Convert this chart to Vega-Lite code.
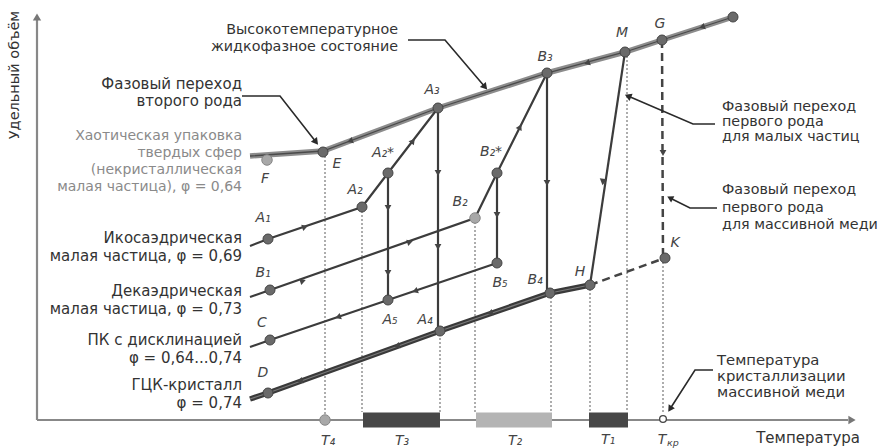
{
  "$schema": "https://vega.github.io/schema/vega-lite/v6.json",
  "width": 881,
  "height": 448,
  "autosize": {"type": "none"},
  "padding": 0,
  "background": "white",
  "config": {"view": {"stroke": null}, "text": {"font": "DejaVu Sans"}},
  "datasets": {
    "dotted": [
      {"id": "E", "o": 0, "x": 325, "y": 152}, {"id": "E", "o": 1, "x": 325, "y": 420},
      {"id": "A2", "o": 0, "x": 362, "y": 207}, {"id": "A2", "o": 1, "x": 362, "y": 412},
      {"id": "A4", "o": 0, "x": 440, "y": 330}, {"id": "A4", "o": 1, "x": 440, "y": 412},
      {"id": "B2", "o": 0, "x": 475, "y": 218}, {"id": "B2", "o": 1, "x": 475, "y": 412},
      {"id": "B4", "o": 0, "x": 551, "y": 293}, {"id": "B4", "o": 1, "x": 551, "y": 412},
      {"id": "H", "o": 0, "x": 590, "y": 285}, {"id": "H", "o": 1, "x": 590, "y": 412},
      {"id": "M", "o": 0, "x": 627, "y": 52}, {"id": "M", "o": 1, "x": 627, "y": 412},
      {"id": "K", "o": 0, "x": 663, "y": 258}, {"id": "K", "o": 1, "x": 663, "y": 414}
    ],
    "bars": [
      {"t": "T₃", "x": 363, "x2": 440, "y": 420},
      {"t": "T₂", "x": 476, "x2": 552, "y": 420},
      {"t": "T₁", "x": 589, "x2": 628, "y": 420}
    ],
    "axes": [
      {"id": "v", "o": 0, "x": 37, "y": 420}, {"id": "v", "o": 1, "x": 37, "y": 20},
      {"id": "h", "o": 0, "x": 37, "y": 420}, {"id": "h", "o": 1, "x": 848, "y": 420}
    ],
    "top": [
      {"o": 0, "x": 250, "y": 156}, {"o": 1, "x": 323, "y": 151}, {"o": 2, "x": 438, "y": 108},
      {"o": 3, "x": 547, "y": 73}, {"o": 4, "x": 625, "y": 52}, {"o": 5, "x": 662, "y": 40},
      {"o": 6, "x": 733, "y": 17}
    ],
    "solid": [
      {"id": "A", "o": 0, "x": 250, "y": 246}, {"id": "A", "o": 1, "x": 268, "y": 239}, {"id": "A", "o": 2, "x": 362, "y": 207}, {"id": "A", "o": 3, "x": 388, "y": 173}, {"id": "A", "o": 4, "x": 438, "y": 108},
      {"id": "B", "o": 0, "x": 250, "y": 297}, {"id": "B", "o": 1, "x": 270, "y": 290}, {"id": "B", "o": 2, "x": 475, "y": 218}, {"id": "B", "o": 3, "x": 497, "y": 173}, {"id": "B", "o": 4, "x": 547, "y": 73},
      {"id": "C", "o": 0, "x": 250, "y": 347}, {"id": "C", "o": 1, "x": 270, "y": 340}, {"id": "C", "o": 2, "x": 388, "y": 300}, {"id": "C", "o": 3, "x": 497, "y": 263},
      {"id": "HM", "o": 0, "x": 590, "y": 285}, {"id": "HM", "o": 1, "x": 625, "y": 52},
      {"id": "vA3", "o": 0, "x": 438, "y": 108}, {"id": "vA3", "o": 1, "x": 438, "y": 330},
      {"id": "vA2", "o": 0, "x": 388, "y": 173}, {"id": "vA2", "o": 1, "x": 388, "y": 300},
      {"id": "vB2", "o": 0, "x": 497, "y": 173}, {"id": "vB2", "o": 1, "x": 497, "y": 263},
      {"id": "vB3", "o": 0, "x": 547, "y": 73}, {"id": "vB3", "o": 1, "x": 547, "y": 293}
    ],
    "dline": [
      {"o": 0, "x": 250, "y": 399}, {"o": 1, "x": 268, "y": 393}, {"o": 2, "x": 440, "y": 331},
      {"o": 3, "x": 550, "y": 293}, {"o": 4, "x": 590, "y": 285}
    ],
    "dashed": [
      {"id": "HK", "o": 0, "x": 590, "y": 285}, {"id": "HK", "o": 1, "x": 665, "y": 258},
      {"id": "GK", "o": 0, "x": 662, "y": 40}, {"id": "GK", "o": 1, "x": 663, "y": 258}
    ],
    "pointers": [
      {"id": "p1", "o": 0, "x": 242, "y": 96}, {"id": "p1", "o": 1, "x": 280, "y": 96}, {"id": "p1", "o": 2, "x": 316, "y": 142},
      {"id": "p2", "o": 0, "x": 408, "y": 40}, {"id": "p2", "o": 1, "x": 445, "y": 40}, {"id": "p2", "o": 2, "x": 485, "y": 87},
      {"id": "p3", "o": 0, "x": 715, "y": 124}, {"id": "p3", "o": 1, "x": 693, "y": 124}, {"id": "p3", "o": 2, "x": 628, "y": 96},
      {"id": "p4", "o": 0, "x": 717, "y": 208}, {"id": "p4", "o": 1, "x": 690, "y": 208}, {"id": "p4", "o": 2, "x": 670, "y": 198},
      {"id": "p5", "o": 0, "x": 713, "y": 370}, {"id": "p5", "o": 1, "x": 695, "y": 370}, {"id": "p5", "o": 2, "x": 670, "y": 409}
    ],
    "dots": [
      {"x": 323, "y": 152}, {"x": 268, "y": 239}, {"x": 362, "y": 207}, {"x": 388, "y": 173},
      {"x": 438, "y": 108}, {"x": 440, "y": 331}, {"x": 388, "y": 300}, {"x": 270, "y": 290},
      {"x": 497, "y": 173}, {"x": 547, "y": 73}, {"x": 550, "y": 293}, {"x": 497, "y": 263},
      {"x": 270, "y": 340}, {"x": 268, "y": 393}, {"x": 590, "y": 285}, {"x": 665, "y": 258},
      {"x": 625, "y": 52}, {"x": 662, "y": 40}, {"x": 733, "y": 17}
    ],
    "dots_light": [
      {"x": 267, "y": 160}, {"x": 475, "y": 218}, {"x": 325, "y": 420}
    ],
    "open": [{"x": 663, "y": 419}],
    "arr_right": [{"x": 305, "y": 227}, {"x": 303, "y": 281}, {"x": 410, "y": 242}],
    "arr_left": [{"x": 338, "y": 317}, {"x": 415, "y": 291}, {"x": 300, "y": 381}, {"x": 397, "y": 346}, {"x": 490, "y": 313}, {"x": 350, "y": 141}, {"x": 587, "y": 63}, {"x": 702, "y": 27}],
    "arr_down": [{"x": 438, "y": 173}, {"x": 438, "y": 247}, {"x": 388, "y": 208}, {"x": 388, "y": 273}, {"x": 497, "y": 215}, {"x": 547, "y": 183}, {"x": 663, "y": 153}],
    "arr_a23": [{"x": 413, "y": 141}],
    "arr_b23": [{"x": 520, "y": 127}],
    "arr_mh": [{"x": 603, "y": 182}],
    "tip_p1": [{"x": 316, "y": 142}],
    "tip_p2": [{"x": 485, "y": 87}],
    "tip_p3": [{"x": 628, "y": 96}],
    "tip_p4": [{"x": 670, "y": 198}],
    "tip_p5": [{"x": 670, "y": 409}],
    "tip_v": [{"x": 37, "y": 17}],
    "tip_h": [{"x": 852, "y": 420}],
    "left_dark": [
      {"x": 242, "y": 84, "t": "Фазовый переход"}, {"x": 242, "y": 101, "t": "второго рода"},
      {"x": 242, "y": 238, "t": "Икосаэдрическая"}, {"x": 242, "y": 256, "t": "малая частица, φ = 0,69"},
      {"x": 242, "y": 291, "t": "Декаэдрическая"}, {"x": 242, "y": 309, "t": "малая частица, φ = 0,73"},
      {"x": 242, "y": 340, "t": "ПК с дисклинацией"}, {"x": 242, "y": 358, "t": "φ = 0,64...0,74"},
      {"x": 242, "y": 385, "t": "ГЦК-кристалл"}, {"x": 242, "y": 403, "t": "φ = 0,74"}
    ],
    "top_text": [
      {"x": 398, "y": 30, "t": "Высокотемпературное"}, {"x": 398, "y": 47, "t": "жидкофазное состояние"}
    ],
    "left_grey": [
      {"x": 242, "y": 136, "t": "Хаотическая упаковка"}, {"x": 242, "y": 153, "t": "твердых сфер"},
      {"x": 242, "y": 170, "t": "(некристаллическая"}, {"x": 242, "y": 187, "t": "малая частица), φ = 0,64"}
    ],
    "right_text": [
      {"x": 722, "y": 107, "t": "Фазовый переход"}, {"x": 722, "y": 122, "t": "первого рода"}, {"x": 722, "y": 137, "t": "для малых частиц"},
      {"x": 722, "y": 190, "t": "Фазовый переход"}, {"x": 722, "y": 208, "t": "первого рода"}, {"x": 722, "y": 225, "t": "для массивной меди"}
    ],
    "right_text2": [
      {"x": 717, "y": 361, "t": "Температура"}, {"x": 717, "y": 377, "t": "кристаллизации"}, {"x": 717, "y": 393, "t": "массивной меди"}
    ],
    "point_labels": [
      {"x": 263, "y": 218, "t": "A₁"}, {"x": 355, "y": 190, "t": "A₂"}, {"x": 383, "y": 153, "t": "A₂*"},
      {"x": 432, "y": 90, "t": "A₃"}, {"x": 425, "y": 320, "t": "A₄"}, {"x": 390, "y": 320, "t": "A₅"},
      {"x": 263, "y": 273, "t": "B₁"}, {"x": 460, "y": 202, "t": "B₂"}, {"x": 491, "y": 152, "t": "B₂*"},
      {"x": 545, "y": 57, "t": "B₃"}, {"x": 535, "y": 280, "t": "B₄"}, {"x": 500, "y": 283, "t": "B₅"},
      {"x": 262, "y": 323, "t": "C"}, {"x": 263, "y": 373, "t": "D"}, {"x": 337, "y": 164, "t": "E"},
      {"x": 265, "y": 179, "t": "F"}, {"x": 580, "y": 272, "t": "H"}, {"x": 675, "y": 243, "t": "K"},
      {"x": 622, "y": 33, "t": "M"}, {"x": 660, "y": 24, "t": "G"},
      {"x": 328, "y": 441, "t": "T₄"}, {"x": 402, "y": 441, "t": "T₃"}, {"x": 515, "y": 441, "t": "T₂"},
      {"x": 608, "y": 440, "t": "T₁"}, {"x": 662, "y": 440, "t": "T"}
    ],
    "sub_kr": [{"x": 673, "y": 443, "t": "кр"}],
    "axis_titles": [{"x": 860, "y": 438, "t": "Температура"}],
    "yaxis_title": [{"x": 15, "y": 75, "t": "Удельный объём"}]
  },
  "encoding": {
    "x": {"field": "x", "type": "quantitative", "scale": {"domain": [0, 881], "nice": false, "zero": false}, "axis": null},
    "y": {"field": "y", "type": "quantitative", "scale": {"domain": [0, 448], "nice": false, "zero": false, "reverse": true}, "axis": null}
  },
  "layer": [
    {"data": {"name": "dotted"}, "mark": {"type": "line", "color": "#777", "strokeWidth": 1.2, "strokeDash": [2, 2]}, "encoding": {"detail": {"field": "id"}, "order": {"field": "o"}}},
    {"data": {"name": "axes"}, "mark": {"type": "line", "color": "#888", "strokeWidth": 2.2}, "encoding": {"detail": {"field": "id"}, "order": {"field": "o"}}},
    {"data": {"name": "bars"}, "mark": {"type": "rule", "strokeWidth": 15, "strokeCap": "butt"},
      "encoding": {"x2": {"field": "x2"},
        "color": {"field": "t", "type": "nominal", "scale": {"domain": ["T₃", "T₂", "T₁"], "range": ["#474747", "#b4b4b4", "#474747"]}, "legend": null}}},
    {"data": {"name": "top"}, "mark": {"type": "line", "color": "#8c8c8c", "strokeWidth": 5.5}, "encoding": {"order": {"field": "o"}}},
    {"data": {"name": "top"}, "mark": {"type": "line", "color": "#4a4a4a", "strokeWidth": 1.3}, "encoding": {"order": {"field": "o"}}},
    {"data": {"name": "solid"}, "mark": {"type": "line", "color": "#3c3c3c", "strokeWidth": 2.2}, "encoding": {"detail": {"field": "id"}, "order": {"field": "o"}}},
    {"data": {"name": "dline"}, "mark": {"type": "line", "color": "#3a3a3a", "strokeWidth": 5.5}, "encoding": {"order": {"field": "o"}}},
    {"data": {"name": "dline"}, "mark": {"type": "line", "color": "#7a7a7a", "strokeWidth": 1.2}, "encoding": {"order": {"field": "o"}}},
    {"data": {"name": "dashed"}, "mark": {"type": "line", "color": "#444", "strokeWidth": 2.5, "strokeDash": [8, 5]}, "encoding": {"detail": {"field": "id"}, "order": {"field": "o"}}},
    {"data": {"name": "pointers"}, "mark": {"type": "line", "color": "#2a2a2a", "strokeWidth": 1.6}, "encoding": {"detail": {"field": "id"}, "order": {"field": "o"}}},
    {"data": {"name": "dots"}, "mark": {"type": "point", "shape": "circle", "filled": true, "size": 100, "color": "#6a6a6a", "stroke": "#444", "strokeWidth": 1, "opacity": 1}},
    {"data": {"name": "dots_light"}, "mark": {"type": "point", "shape": "circle", "filled": true, "size": 110, "color": "#a8a8a8", "stroke": "#888", "strokeWidth": 1, "opacity": 1}},
    {"data": {"name": "open"}, "mark": {"type": "point", "shape": "circle", "filled": true, "size": 45, "color": "white", "stroke": "#444", "strokeWidth": 1.3, "opacity": 1}},
    {"data": {"name": "arr_right"}, "mark": {"type": "point", "shape": "triangle-right", "filled": true, "size": 45, "color": "#444", "angle": -18, "opacity": 1}},
    {"data": {"name": "arr_left"}, "mark": {"type": "point", "shape": "triangle-left", "filled": true, "size": 45, "color": "#444", "angle": -19, "opacity": 1}},
    {"data": {"name": "arr_down"}, "mark": {"type": "point", "shape": "triangle-down", "filled": true, "size": 45, "color": "#444", "opacity": 1}},
    {"data": {"name": "arr_a23"}, "mark": {"type": "point", "shape": "triangle-right", "filled": true, "size": 45, "color": "#444", "angle": -52, "opacity": 1}},
    {"data": {"name": "arr_b23"}, "mark": {"type": "point", "shape": "triangle-right", "filled": true, "size": 45, "color": "#444", "angle": -63, "opacity": 1}},
    {"data": {"name": "arr_mh"}, "mark": {"type": "point", "shape": "triangle-down", "filled": true, "size": 55, "color": "#444", "angle": 8, "opacity": 1}},
    {"data": {"name": "tip_p1"}, "mark": {"type": "point", "shape": "triangle-up", "filled": true, "size": 60, "color": "#2a2a2a", "angle": 142, "opacity": 1}},
    {"data": {"name": "tip_p2"}, "mark": {"type": "point", "shape": "triangle-up", "filled": true, "size": 60, "color": "#2a2a2a", "angle": 140, "opacity": 1}},
    {"data": {"name": "tip_p3"}, "mark": {"type": "point", "shape": "triangle-up", "filled": true, "size": 60, "color": "#2a2a2a", "angle": 294, "opacity": 1}},
    {"data": {"name": "tip_p4"}, "mark": {"type": "point", "shape": "triangle-up", "filled": true, "size": 50, "color": "#2a2a2a", "angle": 297, "opacity": 1}},
    {"data": {"name": "tip_p5"}, "mark": {"type": "point", "shape": "triangle-up", "filled": true, "size": 55, "color": "#2a2a2a", "angle": 213, "opacity": 1}},
    {"data": {"name": "tip_v"}, "mark": {"type": "point", "shape": "triangle-up", "filled": true, "size": 70, "color": "#777", "opacity": 1}},
    {"data": {"name": "tip_h"}, "mark": {"type": "point", "shape": "triangle-right", "filled": true, "size": 70, "color": "#777", "opacity": 1}},
    {"data": {"name": "left_dark"}, "mark": {"type": "text", "align": "right", "baseline": "middle", "fontSize": 15, "color": "#333"}, "encoding": {"text": {"field": "t"}}},
    {"data": {"name": "top_text"}, "mark": {"type": "text", "align": "right", "baseline": "middle", "fontSize": 14.3, "color": "#333"}, "encoding": {"text": {"field": "t"}}},
    {"data": {"name": "left_grey"}, "mark": {"type": "text", "align": "right", "baseline": "middle", "fontSize": 14, "color": "#8a8a8a"}, "encoding": {"text": {"field": "t"}}},
    {"data": {"name": "right_text"}, "mark": {"type": "text", "align": "left", "baseline": "middle", "fontSize": 14.3, "color": "#333"}, "encoding": {"text": {"field": "t"}}},
    {"data": {"name": "right_text2"}, "mark": {"type": "text", "align": "left", "baseline": "middle", "fontSize": 14.8, "color": "#333"}, "encoding": {"text": {"field": "t"}}},
    {"data": {"name": "point_labels"}, "mark": {"type": "text", "align": "center", "baseline": "middle", "fontSize": 14, "fontStyle": "italic", "color": "#444"}, "encoding": {"text": {"field": "t"}}},
    {"data": {"name": "sub_kr"}, "mark": {"type": "text", "align": "center", "baseline": "middle", "fontSize": 9.5, "fontStyle": "italic", "color": "#444"}, "encoding": {"text": {"field": "t"}}},
    {"data": {"name": "axis_titles"}, "mark": {"type": "text", "align": "right", "baseline": "middle", "fontSize": 15, "color": "#333"}, "encoding": {"text": {"field": "t"}}},
    {"data": {"name": "yaxis_title"}, "mark": {"type": "text", "align": "center", "baseline": "middle", "fontSize": 14.5, "angle": 270, "color": "#333"}, "encoding": {"text": {"field": "t"}}}
  ]
}
